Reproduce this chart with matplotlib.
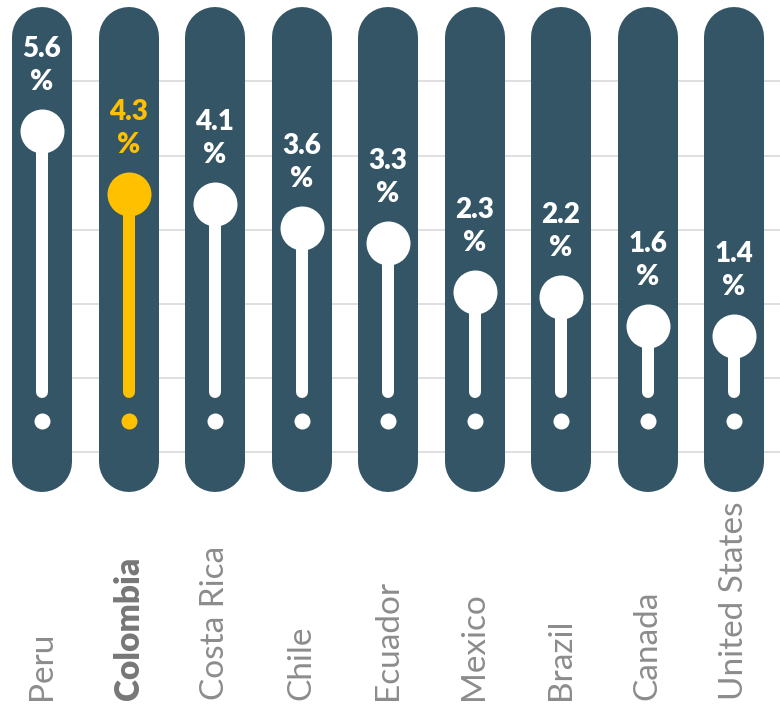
import numpy as np
import matplotlib.pyplot as plt
from matplotlib.transforms import blended_transform_factory

countries = ['Peru', 'Colombia', 'Costa Rica', 'Chile', 'Ecuador', 'Mexico',
             'Brazil', 'Canada', 'United States']
values = [5.6, 4.3, 4.1, 3.6, 3.3, 2.3, 2.2, 1.6, 1.4]
highlight = 'Colombia'

pill_col = '#345566'
gold = '#FFC000'
grid_col = '#d9d9d9'

W, H = 780, 707
ppu = 48.8      # pixels per percentage point
zero_px = 404   # pixel row of 0 %

def v(px):
    # pixel row -> value units
    return (zero_px - px) / ppu

fig = plt.figure(figsize=(W / 100, H / 100), dpi=100)
ax = fig.add_axes([0, 1 - 492 / H, 1, (492 - 7) / H])
ax.set_xlim(-42 / 86.5, (W - 42) / 86.5)
ax.set_ylim(v(492), v(7))
ax.axis('off')

x = np.arange(len(countries))

# background grid
for gy in [81, 156, 230, 304, 378, 452]:
    ax.plot([0, 9], [v(gy), v(gy)], color=grid_col, lw=1.2, zorder=0)

# pills
pt = 72 / 100
for xi in x:
    ax.plot([xi, xi], [v(37), v(462)], color=pill_col, lw=60 * pt,
            solid_capstyle='round', zorder=1)

for xi, name, val in zip(x, countries, values):
    c = gold if name == highlight else 'white'
    ax.plot([xi, xi], [0.25, val], color=c, lw=12 * pt,
            solid_capstyle='round', zorder=2)
    ax.plot(xi, val, 'o', color=c, ms=44 * pt, mec='none', zorder=3)
    ax.plot(xi, v(421), 'o', color=c, ms=16 * pt, mec='none', zorder=3)
    ax.annotate(f'{val}', (xi, val), xytext=(0, 82 * pt), textcoords='offset points',
                ha='center', va='center', color=c, fontsize=20,
                fontweight='heavy', family='Lato', zorder=4)
    ax.annotate('%', (xi, val), xytext=(0, 49 * pt), textcoords='offset points',
                ha='center', va='center', color=c, fontsize=20,
                fontweight='heavy', family='Lato', zorder=4)

# country labels
tr = blended_transform_factory(ax.transData, fig.transFigure)
for xi, name in zip(x, countries):
    bold = name == highlight
    fig.text(xi, 1 - 700 / H, name, transform=tr, rotation=90,
             ha='center', va='bottom', fontsize=24, family='Lato',
             fontweight='heavy' if bold else 'normal',
             color='#777777' if bold else '#8c8c8c')

fig.savefig('out.png', dpi=100)
